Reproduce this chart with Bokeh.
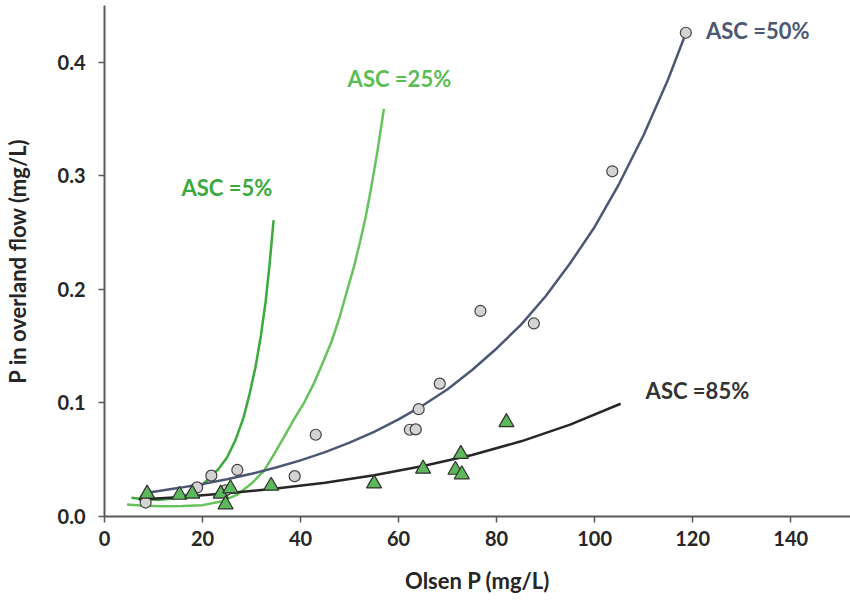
from bokeh.plotting import figure
from bokeh.models import ColumnDataSource, Range1d, FixedTicker, CustomJSTickFormatter
from bokeh.core.properties import value
from bokeh.embed import file_html
from bokeh.resources import INLINE

asc50_x = [8.4, 18.9, 21.8, 24.7, 27.1, 38.8, 43.1, 62.3, 63.5, 64.1, 68.4, 76.7, 87.6, 103.6, 118.6]
asc50_y = [0.0123, 0.0256, 0.036, 0.023, 0.041, 0.0355, 0.072, 0.0764, 0.0767, 0.0945, 0.117, 0.181, 0.170, 0.304, 0.426]

asc85_x = [8.7, 15.3, 17.9, 23.7, 25.7, 24.7, 34.0, 55.0, 65.0, 71.6, 72.9, 72.7, 82.0]
asc85_y = [0.020, 0.019, 0.020, 0.020, 0.0247, 0.0106, 0.027, 0.029, 0.042, 0.041, 0.037, 0.055, 0.083]

# ---- fitted curves ----
fit5_x = [5.5, 8, 11, 14, 17.6, 19.5, 21.6, 23.3, 25.0, 26.7, 28.4, 29.6, 30.8, 31.9, 32.9, 33.7, 34.5]
fit5_y = [0.0165, 0.0152, 0.0148, 0.0158, 0.020, 0.026, 0.0346, 0.042, 0.052, 0.067, 0.0875, 0.108, 0.1315, 0.159, 0.190, 0.223, 0.261]

fit25_x = [4.6, 8, 12, 16, 20, 24, 27, 30, 32.5, 34.6, 36.5, 38.6, 40.7, 42.7, 44.6, 46.4, 48.0, 49.5, 50.9, 52.2, 53.3, 54.3, 55.7, 57.0]
fit25_y = [0.0105, 0.0095, 0.0090, 0.0092, 0.0100, 0.0135, 0.019, 0.029, 0.040, 0.055, 0.069, 0.085, 0.100, 0.117, 0.136, 0.155, 0.176, 0.199, 0.220, 0.243, 0.264, 0.287, 0.322, 0.359]

fit50_x = [9.4, 15, 20, 25, 30, 35, 40, 45, 50, 55, 60, 65, 70, 75, 80, 85, 90, 95, 100, 105, 110, 115, 119]
fit50_y = [0.0214, 0.0250, 0.0286, 0.0328, 0.0376, 0.0431, 0.0494, 0.0567, 0.0650, 0.0745, 0.0855, 0.0980, 0.112, 0.129, 0.148, 0.169, 0.194, 0.223, 0.255, 0.293, 0.336, 0.385, 0.430]

fit85_x = [7, 15, 25, 35, 45, 55, 65, 75, 85, 95, 105.3]
fit85_y = [0.0150, 0.0170, 0.0205, 0.0246, 0.0298, 0.0364, 0.0444, 0.0542, 0.0662, 0.0809, 0.0993]

labels = ["ASC =5%", "ASC =25%", "ASC =50%", "ASC =85%"]
label_x = [15.7, 49.6, 122.7, 110.4]
label_y = [0.290, 0.386, 0.428, 0.111]
label_colors = ["#3aaa3c", "#5cbd55", "#4b5773", "#333333"]

x_ticks = [0, 20, 40, 60, 80, 100, 120, 140]
y_ticks = [0.0, 0.1, 0.2, 0.3, 0.4]

p = figure(width=850, height=605, output_backend="svg", toolbar_location=None,
           x_range=Range1d(0, 152.2), y_range=Range1d(0, 0.45),
           min_border_left=104, min_border_right=0, min_border_top=5, min_border_bottom=89)
p.outline_line_color = None
p.grid.visible = False
p.background_fill_color = "white"
p.border_fill_color = "white"

p.line(fit5_x, fit5_y, line_color="#3aaa3c", line_width=2.5)
p.line(fit25_x, fit25_y, line_color="#66c35c", line_width=2.5)
p.line(fit50_x, fit50_y, line_color="#4b5773", line_width=2.5)
p.line(fit85_x, fit85_y, line_color="#262626", line_width=2.5)

p.scatter(asc50_x, asc50_y, marker="circle", size=11, fill_color="#d3d3d3",
          line_color="#404040", line_width=1.2)
p.scatter(asc85_x, asc85_y, marker="triangle", size=15, fill_color="#5cb85a",
          line_color="#303030", line_width=1.2)

src = ColumnDataSource(dict(x=label_x, y=label_y, t=labels, c=label_colors))
p.text(x="x", y="y", text="t", text_color="c", source=src,
       text_font=value("Lato"), text_font_style="bold", text_font_size="22px",
       text_align="left", text_baseline="middle")

for ax in (p.xaxis[0], p.yaxis[0]):
    ax.axis_line_color = "#595959"
    ax.axis_line_width = 2
    ax.major_tick_line_color = "#595959"
    ax.major_tick_line_width = 1.5
    ax.major_tick_out = 6
    ax.major_tick_in = 0
    ax.minor_tick_out = 0
    ax.minor_tick_in = 0
    ax.major_label_text_font = "Lato"
    ax.major_label_text_font_style = "bold"
    ax.major_label_text_font_size = "20px"
    ax.major_label_text_color = "#262626"
    ax.axis_label_text_font = "Lato"
    ax.axis_label_text_font_style = "bold"
    ax.axis_label_text_font_size = "22px"
    ax.axis_label_text_color = "#262626"

p.xaxis.ticker = FixedTicker(ticks=x_ticks)
p.yaxis.ticker = FixedTicker(ticks=y_ticks)
p.yaxis.formatter = CustomJSTickFormatter(code="return tick.toFixed(1);")
p.xaxis.axis_label = "Olsen P (mg/L)"
p.yaxis.axis_label = "P in overland flow (mg/L)"
p.xaxis.major_label_standoff = 8
p.yaxis.major_label_standoff = 13
p.xaxis.axis_label_standoff = 18
p.yaxis.axis_label_standoff = 24

open("out.html", "w").write(file_html(p, INLINE))
